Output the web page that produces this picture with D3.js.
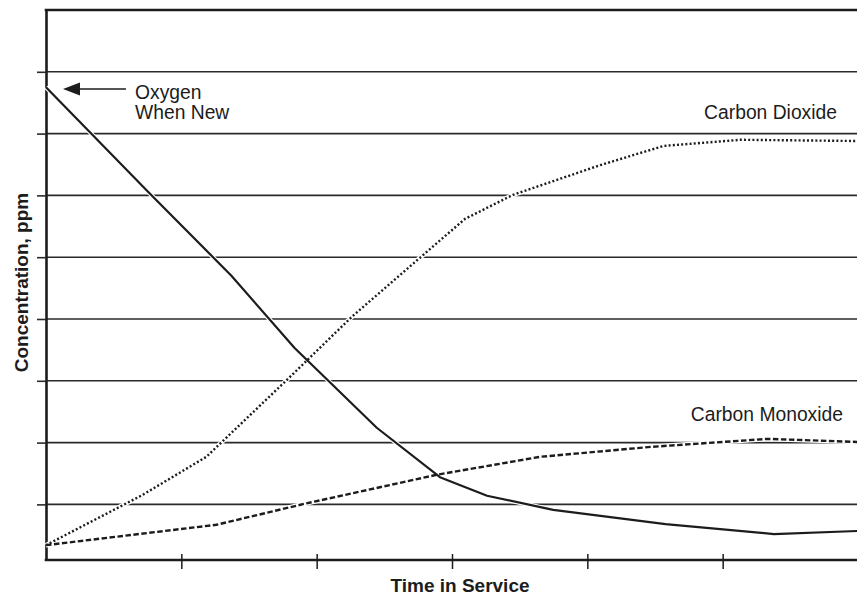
<!DOCTYPE html>
<html>
<head>
<meta charset="utf-8">
<script src="https://cdn.jsdelivr.net/npm/d3@7"></script>
<style>
  html, body { margin: 0; padding: 0; background: #fff; }
  svg { display: block; font-family: "Liberation Sans", Arial, Helvetica, sans-serif; }
</style>
</head>
<body>
<svg id="chart" width="857" height="597"></svg>
<script>
// Time in service (arbitrary units) and concentration readings
const oxygenTime = [0, 7.63, 13.7, 18.37, 24.44, 29.11, 32.59, 37.48, 45.78, 53.78, 60];
const oxygenConc = [7.75, 6.04, 4.70, 3.53, 2.24, 1.44, 1.14, 0.91, 0.68, 0.52, 0.57];

const co2Time = [0, 7.11, 11.85, 17.78, 22.67, 27.63, 30.96, 34.52, 40.96, 45.63, 51.33, 60];
const co2Conc = [0.34, 1.15, 1.77, 3.01, 4.05, 4.99, 5.62, 6.01, 6.49, 6.80, 6.90, 6.88];

const coTime = [0, 12.59, 19.11, 28.89, 36.52, 44.67, 53.33, 60];
const coConc = [0.34, 0.67, 1.01, 1.48, 1.77, 1.93, 2.06, 2.01];

const gridValues = [1, 2, 3, 4, 5, 6, 7, 8];
const timeTicks = [10, 20, 30, 40, 50];

const W = 857, H = 597;
const ink = "#1c1c1c";
const svg = d3.select("#chart");

const x = d3.scaleLinear().domain([0, 60]).range([46, 858]);
const y = d3.scaleLinear().domain([0.1, 9]).range([560, 10]);

// horizontal grid lines
svg.append("g").selectAll("line").data(gridValues).join("line")
  .attr("x1", x(0)).attr("x2", W)
  .attr("y1", d => y(d)).attr("y2", d => y(d))
  .attr("stroke", "#2a2a2a").attr("stroke-width", 1.6);

// left axis with outward ticks
const yAxis = svg.append("g").attr("transform", `translate(${x(0)},0)`)
  .call(d3.axisLeft(y).tickValues(gridValues).tickSize(9).tickSizeOuter(0).tickFormat(""));
yAxis.select(".domain").attr("stroke", ink).attr("stroke-width", 2.6);
yAxis.selectAll(".tick line").attr("stroke", "#2a2a2a").attr("stroke-width", 1.6);

// top border
svg.append("line")
  .attr("x1", x(0) - 1.3).attr("x2", W)
  .attr("y1", y(9)).attr("y2", y(9))
  .attr("stroke", ink).attr("stroke-width", 2.6);

// bottom axis, ticks crossing the line
const xAxis = svg.append("g").attr("transform", `translate(0,${y(0.1)})`)
  .call(d3.axisBottom(x).tickValues(timeTicks).tickSize(9).tickSizeOuter(0).tickFormat(""));
xAxis.select(".domain").attr("stroke", ink).attr("stroke-width", 2.6)
  .attr("d", `M${x(0) - 1.3},0H${W}`);
xAxis.selectAll(".tick line").attr("y1", -6).attr("stroke", ink).attr("stroke-width", 1.5);

// curves
const line = d3.line().x(d => x(d[0])).y(d => y(d[1]));
const series = [
  { t: coTime, v: coConc, dash: "5.5,2.5", w: 2.4 },
  { t: co2Time, v: co2Conc, dash: "2,2.2", w: 2.4 },
  { t: oxygenTime, v: oxygenConc, dash: null, w: 2.2 }
];
const curves = svg.append("g");
series.forEach(s => {
  const pts = s.t.map((t, i) => [t, s.v[i]]);
  curves.append("path").datum(pts).attr("d", line)
    .attr("fill", "none").attr("stroke", "#fff").attr("stroke-width", s.w + 2.2)
    .attr("stroke-linejoin", "round");
});
series.forEach(s => {
  const pts = s.t.map((t, i) => [t, s.v[i]]);
  curves.append("path").datum(pts).attr("d", line)
    .attr("fill", "none").attr("stroke", ink).attr("stroke-width", s.w)
    .attr("stroke-dasharray", s.dash)
    .attr("stroke-linejoin", "round");
});

// annotations
const labelSize = 19.3;
const ay = 89;
svg.append("line").attr("x1", 78).attr("x2", 126).attr("y1", ay).attr("y2", ay)
  .attr("stroke", ink).attr("stroke-width", 1.5);
svg.append("path").attr("d", `M63,${ay}L80,${ay - 6.5}L80,${ay + 6.5}Z`).attr("fill", ink);

const ox = svg.append("text").attr("x", 135).attr("y", 98.5)
  .attr("font-size", labelSize).attr("fill", ink);
ox.append("tspan").attr("x", 135).text("Oxygen");
ox.append("tspan").attr("x", 135).attr("y", 119).text("When New");

svg.append("text").attr("x", 837).attr("y", 119).attr("text-anchor", "end")
  .attr("font-size", labelSize).attr("fill", ink).text("Carbon Dioxide");
svg.append("text").attr("x", 843).attr("y", 421).attr("text-anchor", "end")
  .attr("font-size", labelSize).attr("fill", ink).text("Carbon Monoxide");

// axis titles
svg.append("text").attr("x", 460).attr("y", 591.5).attr("text-anchor", "middle")
  .attr("font-size", 19).attr("font-weight", "bold").attr("fill", ink)
  .text("Time in Service");
svg.append("text").attr("transform", "translate(28,282.5) rotate(-90)")
  .attr("text-anchor", "middle")
  .attr("font-size", 19).attr("font-weight", "bold").attr("fill", ink)
  .text("Concentration, ppm");
</script>
</body>
</html>
